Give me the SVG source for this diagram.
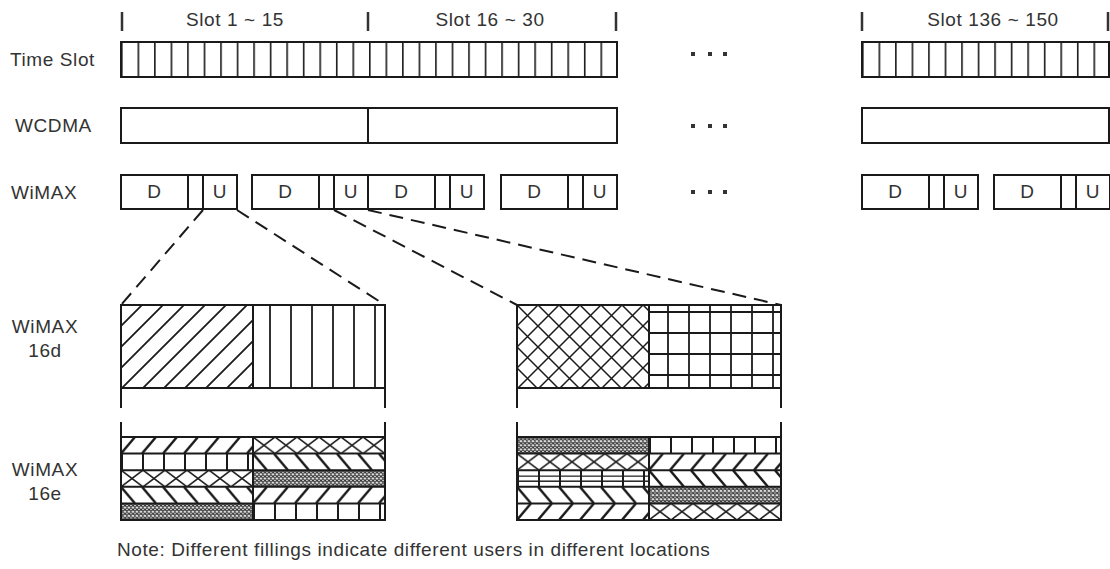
<svg xmlns="http://www.w3.org/2000/svg" width="1110" height="569" viewBox="0 0 1110 569">
<style>
text{font-family:"Liberation Sans",Arial,sans-serif;font-size:19px;letter-spacing:0.6px;fill:#333}
.c{text-anchor:middle}
.b{fill:#fff;stroke:#1a1a1a;stroke-width:2}
.n{fill:none;stroke:#1a1a1a;stroke-width:2}
.l{stroke:#1a1a1a;stroke-width:2;fill:none}
.t{stroke:#333;stroke-width:2.5;fill:none}
.d{stroke:#1a1a1a;stroke-width:2;fill:none;stroke-dasharray:14 8}
.dot{fill:#333}
</style>
<defs>
<pattern id="slots" patternUnits="userSpaceOnUse" width="16.533" height="35"><rect x="0" y="0" width="1.6" height="35" fill="#1a1a1a"/></pattern>
<pattern id="p16Slash" patternUnits="userSpaceOnUse" width="21" height="21"><path d="M0,21 L21,0 M-5,5 L5,-5 M16,26 L26,16" stroke="#1a1a1a" stroke-width="1.8"/></pattern>
<pattern id="p16Vert" patternUnits="userSpaceOnUse" width="21" height="10"><path d="M17,0 V10" stroke="#1a1a1a" stroke-width="1.8"/></pattern>
<pattern id="p16Cross" patternUnits="userSpaceOnUse" width="21" height="21"><path d="M0,0 L21,21 M0,21 L21,0 M-3,-3 L3,3 M18,-3 L24,3 M-3,24 L3,18 M18,24 L24,18" stroke="#1a1a1a" stroke-width="1.5"/></pattern>
<pattern id="p16Grid" patternUnits="userSpaceOnUse" width="21" height="21"><path d="M19,0 V21 M0,7 H21" stroke="#1a1a1a" stroke-width="1.8"/></pattern>
<pattern id="pFwd" patternUnits="userSpaceOnUse" width="21" height="16.6"><path d="M0,16.6 L14,0 M21,16.6 L35,0 M-21,16.6 L-7,0" stroke="#1a1a1a" stroke-width="2.4"/></pattern>
<pattern id="pBack" patternUnits="userSpaceOnUse" width="21" height="16.6"><path d="M0,0 L14,16.6 M21,0 L35,16.6 M-21,0 L-7,16.6" stroke="#1a1a1a" stroke-width="2.4"/></pattern>
<pattern id="pX" patternUnits="userSpaceOnUse" width="22" height="16.6"><path d="M0,0 L22,16.6 M0,16.6 L22,0" stroke="#1a1a1a" stroke-width="1.6"/></pattern>
<pattern id="pBox" patternUnits="userSpaceOnUse" width="21" height="16.6"><rect x="0" y="0" width="2" height="16.6" fill="#1a1a1a"/></pattern>
<pattern id="pBrick" patternUnits="userSpaceOnUse" width="21" height="16.6"><rect x="0" y="0" width="2" height="16.6" fill="#1a1a1a"/><path d="M0,6 H21 M0,11 H21" stroke="#1a1a1a" stroke-width="1.4"/></pattern>
<pattern id="pDots" patternUnits="userSpaceOnUse" width="4" height="4.15"><circle cx="2" cy="2.07" r="1.4" fill="none" stroke="#1a1a1a" stroke-width="1.1"/></pattern>
</defs>

<g id="header">
<path class="t" d="M122,12 V31 M368,12 V31 M616,12 V31 M862,12 V31 M1108,12 V31"/>
<text class="c" x="235" y="26">Slot 1 ~ 15</text>
<text class="c" x="490" y="26">Slot 16 ~ 30</text>
<text class="c" x="993" y="26">Slot 136 ~ 150</text>
</g>

<g id="row-labels">
<text x="10" y="66">Time Slot</text>
<text x="15" y="132">WCDMA</text>
<text x="11" y="199">WiMAX</text>
</g>

<g id="timeslot">
<g transform="translate(121,42)"><rect width="496" height="35" fill="url(#slots)"/><rect class="n" width="496" height="35"/></g>
<g transform="translate(862,42)"><rect width="248" height="35" fill="url(#slots)"/><rect class="n" width="247" height="35"/></g>
</g>

<g id="wcdma">
<rect class="b" x="121" y="108" width="496" height="35"/>
<path class="l" d="M368,108 V143"/>
<rect class="b" x="862" y="108" width="247" height="35"/>
</g>

<g id="wimax">
<g transform="translate(121,175)"><rect class="b" width="116" height="34"/><path class="l" d="M67,0 V34 M82,0 V34"/><text class="c" x="33.5" y="23">D</text><text class="c" x="99" y="23">U</text></g>
<g transform="translate(252,175)"><rect class="b" width="116" height="34"/><path class="l" d="M67,0 V34 M82,0 V34"/><text class="c" x="33.5" y="23">D</text><text class="c" x="99" y="23">U</text></g>
<g transform="translate(368,175)"><rect class="b" width="116" height="34"/><path class="l" d="M67,0 V34 M82,0 V34"/><text class="c" x="33.5" y="23">D</text><text class="c" x="99" y="23">U</text></g>
<g transform="translate(501,175)"><rect class="b" width="116" height="34"/><path class="l" d="M67,0 V34 M82,0 V34"/><text class="c" x="33.5" y="23">D</text><text class="c" x="99" y="23">U</text></g>
<g transform="translate(862,175)"><rect class="b" width="116" height="34"/><path class="l" d="M67,0 V34 M82,0 V34"/><text class="c" x="33.5" y="23">D</text><text class="c" x="99" y="23">U</text></g>
<g transform="translate(994,175)"><rect class="b" width="116" height="34"/><path class="l" d="M67,0 V34 M82,0 V34"/><text class="c" x="33.5" y="23">D</text><text class="c" x="99" y="23">U</text></g>
</g>

<g id="ellipses">
<rect class="dot" x="691" y="52" width="4" height="4"/><rect class="dot" x="708" y="52" width="4" height="4"/><rect class="dot" x="723" y="52" width="4" height="4"/>
<rect class="dot" x="691" y="124" width="4" height="4"/><rect class="dot" x="708" y="124" width="4" height="4"/><rect class="dot" x="723" y="124" width="4" height="4"/>
<rect class="dot" x="691" y="190" width="4" height="4"/><rect class="dot" x="708" y="190" width="4" height="4"/><rect class="dot" x="723" y="190" width="4" height="4"/>
</g>

<g id="connectors">
<path class="d" d="M203,210 L121,305"/>
<path class="d" d="M237,210 L385,305"/>
<path class="d" d="M334,210 L517,305"/>
<path class="d" d="M368,210 L781,305"/>
</g>

<g id="labels-16">
<text class="c" x="45" y="333">WiMAX</text>
<text class="c" x="45" y="357">16d</text>
<text class="c" x="45" y="476">WiMAX</text>
<text class="c" x="45" y="500">16e</text>
</g>

<g id="wimax16d-left" transform="translate(121,305)">
<rect width="132" height="83" fill="url(#p16Slash)"/>
<g transform="translate(132,0)"><rect width="132" height="83" fill="url(#p16Vert)"/></g>
<rect class="n" width="264" height="83"/>
<path class="l" d="M132,0 V83 M0,83 V103 M264,83 V103"/>
</g>

<g id="wimax16d-right" transform="translate(517,305)">
<rect width="132" height="83" fill="url(#p16Cross)"/>
<g transform="translate(132,0)"><rect width="132" height="83" fill="url(#p16Grid)"/></g>
<rect class="n" width="264" height="83"/>
<path class="l" d="M132,0 V83 M0,83 V103 M264,83 V103"/>
</g>

<g id="wimax16e-left" transform="translate(121,437)">
<rect width="132" height="16.6" fill="url(#pFwd)"/>
<g transform="translate(132,0)"><rect width="132" height="16.6" fill="url(#pX)"/></g>
<g transform="translate(0,16.6)"><rect width="132" height="16.6" fill="url(#pBox)"/></g>
<g transform="translate(132,16.6)"><rect width="132" height="16.6" fill="url(#pBack)"/></g>
<g transform="translate(0,33.2)"><rect width="132" height="16.6" fill="url(#pX)"/></g>
<g transform="translate(132,33.2)"><rect width="132" height="16.6" fill="url(#pDots)"/></g>
<g transform="translate(0,49.8)"><rect width="132" height="16.6" fill="url(#pBack)"/></g>
<g transform="translate(132,49.8)"><rect width="132" height="16.6" fill="url(#pFwd)"/></g>
<g transform="translate(0,66.4)"><rect width="132" height="16.6" fill="url(#pDots)"/></g>
<g transform="translate(132,66.4)"><rect width="132" height="16.6" fill="url(#pBox)"/></g>
<path class="l" d="M0,16.6 H264 M0,33.2 H264 M0,49.8 H264 M0,66.4 H264 M132,0 V83 M0,0 V-15 M264,0 V-15"/>
<rect class="n" width="264" height="83"/>
</g>

<g id="wimax16e-right" transform="translate(517,437)">
<rect width="132" height="16.6" fill="url(#pDots)"/>
<g transform="translate(132,0)"><rect width="132" height="16.6" fill="url(#pBox)"/></g>
<g transform="translate(0,16.6)"><rect width="132" height="16.6" fill="url(#pX)"/></g>
<g transform="translate(132,16.6)"><rect width="132" height="16.6" fill="url(#pFwd)"/></g>
<g transform="translate(0,33.2)"><rect width="132" height="16.6" fill="url(#pBrick)"/></g>
<g transform="translate(132,33.2)"><rect width="132" height="16.6" fill="url(#pBack)"/></g>
<g transform="translate(0,49.8)"><rect width="132" height="16.6" fill="url(#pBack)"/></g>
<g transform="translate(132,49.8)"><rect width="132" height="16.6" fill="url(#pDots)"/></g>
<g transform="translate(0,66.4)"><rect width="132" height="16.6" fill="url(#pFwd)"/></g>
<g transform="translate(132,66.4)"><rect width="132" height="16.6" fill="url(#pX)"/></g>
<path class="l" d="M0,16.6 H264 M0,33.2 H264 M0,49.8 H264 M0,66.4 H264 M132,0 V83 M0,0 V-15 M264,0 V-15"/>
<rect class="n" width="264" height="83"/>
</g>

<g id="note">
<text x="117" y="556">Note: Different fillings indicate different users in different locations</text>
</g>
</svg>
